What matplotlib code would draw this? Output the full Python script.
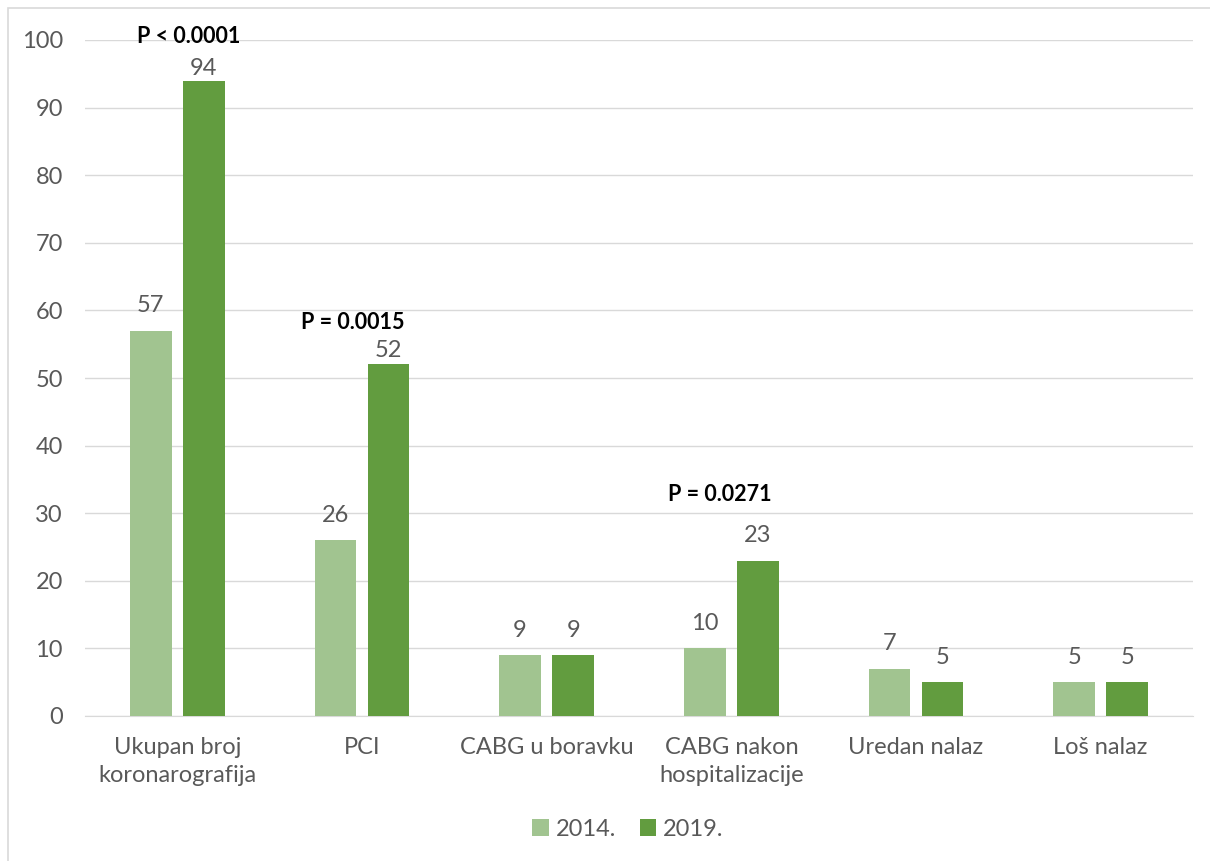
import numpy as np
import matplotlib.pyplot as plt
from matplotlib.patches import Rectangle

plt.rcParams['font.family'] = ['Lato', 'DejaVu Sans']

categories = ["Ukupan broj\nkoronarografija", "PCI", "CABG u boravku",
              "CABG nakon\nhospitalizacije", "Uredan nalaz", "Loš nalaz"]
v2014 = [57, 26, 9, 10, 7, 5]
v2019 = [94, 52, 9, 23, 5, 5]
series = ["2014.", "2019."]
pvals = ["P < 0.0001", "P = 0.0015", "P = 0.0271"]
p_pos = [(0.06, 100.5), (0.95, 58.2), (2.94, 32.7)]

c14 = "#A1C490"
c19 = "#629C3F"
txt = "#595959"
fs = 17

fig = plt.figure(figsize=(12.1, 8.61), dpi=100)
fig.patches.append(Rectangle((8/1210, -0.01), 1.1, 1 - 8/861 + 0.01, transform=fig.transFigure,
                             fill=False, edgecolor="#D9D9D9", linewidth=1.2))
ax = fig.add_axes([85/1210, 1 - 716/861, 1108/1210, 676/861])

x = np.arange(len(categories))
w = 0.225
off = 0.144
b1 = ax.bar(x - off, v2014, w, color=c14, label=series[0], zorder=3)
b2 = ax.bar(x + off, v2019, w, color=c19, label=series[1], zorder=3)

# label gap above bar; the two 2019 labels under the P boxes were nudged down
gap14 = [2.15] * 6
gap19 = [0.25, 0.5, 2.15, 2.15, 2.15, 2.15]
for bars, gaps in ((b1, gap14), (b2, gap19)):
    for r, g in zip(bars, gaps):
        h = r.get_height()
        ax.text(r.get_x() + r.get_width()/2, h + g, f"{int(h)}",
                ha="center", va="bottom", fontsize=fs, color=txt, zorder=4)

for t, (px, py) in zip(pvals, p_pos):
    ax.text(px, py, t, ha="center", va="center", fontsize=15.5, fontweight="bold", color="black")

ax.set_xlim(-0.5, len(categories) - 0.5)
ax.set_ylim(0, 100)
ax.set_yticks(range(0, 101, 10))
ax.set_xticks(x)
ax.set_xticklabels(categories, fontsize=fs, color=txt, linespacing=1.4)
ax.tick_params(axis="y", labelsize=fs, labelcolor=txt, length=0, pad=16)
ax.tick_params(axis="x", length=0, pad=15)
ax.yaxis.grid(True, color="#D9D9D9", linewidth=1, zorder=0)
for s in ["top", "right", "left"]:
    ax.spines[s].set_visible(False)
ax.spines["bottom"].set_color("#D9D9D9")

fig.legend(handles=[b1, b2], labels=series, loc="center", bbox_to_anchor=(628/1210, 1 - 829/861),
           ncol=2, frameon=False, fontsize=fs, labelcolor=txt, handlelength=0.7, handleheight=0.7,
           handletextpad=0.3, columnspacing=1.0)

fig.savefig("out.png", dpi=100)
